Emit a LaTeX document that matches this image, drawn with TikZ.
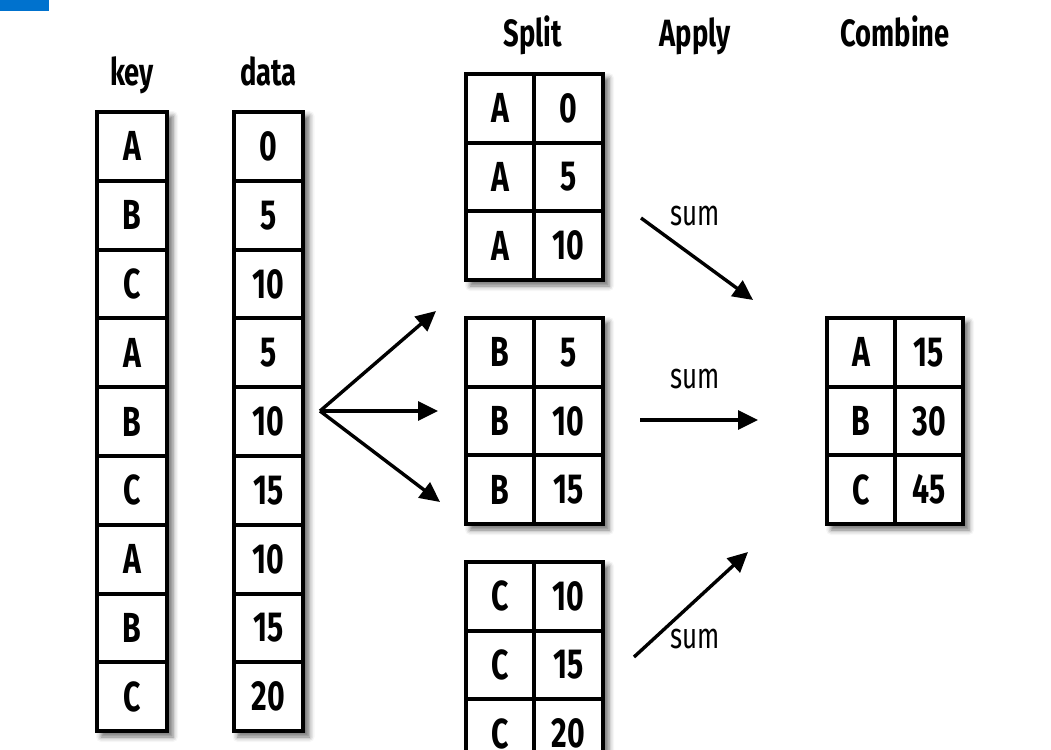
\documentclass[tikz,border=0pt]{standalone}
\usepackage{fontspec}
\setmainfont{Fira Sans}[FakeStretch=0.72]
\usetikzlibrary{arrows.meta,shadows.blur}
\definecolor{markblue}{RGB}{0,114,206}

\begin{document}
\begin{tikzpicture}[x=1pt,y=-1pt,
		frame/.style={fill=white, inner sep=0pt, blur shadow={shadow xshift=5pt, shadow yshift=-5pt, shadow blur radius=5pt, shadow opacity=55}},
		cell/.style={draw, line width=4pt, fill=white, inner sep=0pt, minimum width=#1, minimum height=68.7pt, font=\fontsize{42}{42}\selectfont\bfseries},
		head/.style={anchor=base, font=\fontsize{38}{38}\selectfont\bfseries},
		sumlabel/.style={font=\fontsize{36}{36}\selectfont},
		arr/.style={line width=3.4pt, -{Triangle[length=20pt,width=19pt]}}]
	\useasboundingbox (0,0) rectangle (1051,749);
	\clip (0,0) rectangle (1051,749);
	\fill[markblue] (0,0) rectangle (49,11);
	% headers
	\node[head] (keyhead) at (132,86) {key};
	\node[head] (datahead) at (268.5,86) {data};
	\node[head] (splithead) at (533,47) {Split};
	\node[head] (applyhead) at (695,47) {Apply};
	\node[head] (combinehead) at (895,47) {Combine};
	% key and data columns
	\node[frame, minimum width=72pt, minimum height=621pt] (keyframe) at (132,421.5) {};
	\node[frame, minimum width=72pt, minimum height=621pt] (dataframe) at (268.5,421.5) {};
	\foreach \t [count=\i] in {A,B,C,A,B,C,A,B,C}
		\node[cell=70pt] (key\i) at (132,{112+68.8*(\i-0.5)}) {\t};
	\foreach \t [count=\i] in {0,5,10,5,10,15,10,15,20}
		\node[cell=69pt] (data\i) at (268.5,{112+68.8*(\i-0.5)}) {\t};
	% split groups
	\foreach \g/\top/\va/\vb/\vc in {A/74/0/5/10, B/318/5/10/15, C/562/10/15/20} {
		\node[frame, minimum width=139pt, minimum height=208pt] (split\g) at (534.5,\top+103) {};
		\foreach \v [count=\i] in {\va,\vb,\vc} {
			\node[cell=68pt] (split\g key\i) at (500,{\top+68.7*(\i-0.5)}) {\g};
			\node[cell=69pt] (split\g val\i) at (568.5,{\top+68.7*(\i-0.5)}) {\v};
		}
	}
	% combined result
	\node[frame, minimum width=138pt, minimum height=208pt] (combframe) at (895,421) {};
	\foreach \k/\v [count=\i] in {A/15,B/30,C/45} {
		\node[cell=68pt] (comb\i key) at (861,{318+68.7*(\i-0.5)}) {\k};
		\node[cell=68pt] (comb\i val) at (929,{318+68.7*(\i-0.5)}) {\v};
	}
	% splitting arrows
	\coordinate (fan) at (320,411);
	\coordinate (fanA) at (436,311);
	\coordinate (fanB) at (438,411);
	\coordinate (fanC) at (440,502);
	\draw[arr] (fan) -- (fanA);
	\draw[arr] (fan) -- (fanB);
	\draw[arr] (fan) -- (fanC);
	% apply arrows
	\coordinate (sumAfrom) at (641,218);
	\coordinate (sumAto) at (753,300);
	\coordinate (sumBfrom) at (640,420);
	\coordinate (sumBto) at (758,420);
	\coordinate (sumCfrom) at (634,657);
	\coordinate (sumCto) at (748,552);
	\draw[arr] (sumAfrom) -- (sumAto);
	\draw[arr] (sumBfrom) -- (sumBto);
	\draw[arr] (sumCfrom) -- (sumCto);
	\node[sumlabel] (sumA) at (695,216) {sum};
	\node[sumlabel] (sumB) at (695,379) {sum};
	\node[sumlabel] (sumC) at (695,639) {sum};
\end{tikzpicture}
\end{document}
